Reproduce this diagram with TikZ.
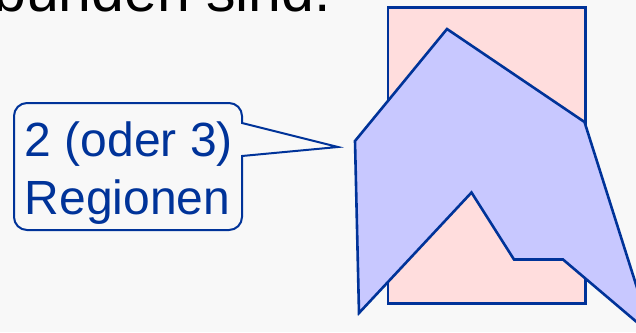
\documentclass[tikz,border=0pt]{standalone}
\usepackage{fontspec}
\setmainfont{Liberation Sans}
\definecolor{bg}{HTML}{F8F8F8}
\definecolor{dblue}{HTML}{003399}
\definecolor{pinkfill}{HTML}{FFDDDD}
\definecolor{violetfill}{HTML}{C8C8FF}
\tikzset{
  region/.style={draw=dblue, line width=2.6pt, line join=miter},
  calloutline/.style={draw=dblue, fill=bg, line width=2pt, line join=miter},
  lbltext/.style={text=dblue, inner sep=0pt, anchor=base west, font=\fontsize{48}{58}\selectfont},
}
\begin{document}
\begin{tikzpicture}[x=1pt,y=-1pt]
\clip (0,0) rectangle (636,332);
\useasboundingbox (0,0) rectangle (636,332);
\fill[bg] (0,0) rectangle (636,332);
% top text (cut off at the top edge, as in the reference)
\node[inner sep=0pt, anchor=base west, font=\fontsize{59}{70}\selectfont] (title) at (-7,11) {bunden sind.};
% rectangle
\draw[region, fill=pinkfill] (388,7.5) rectangle (585.5,303.5);
% polygon
\draw[region, fill=violetfill] (447,29) -- (584.5,122) -- (652,335) -- (563,259.5) -- (514,259.5) -- (471.5,192.5) -- (359,313) -- (355,141) -- cycle;
% callout
\coordinate (tip) at (338,147);
\draw[calloutline] (242,123) -- (tip) -- (242,156) [rounded corners=13pt] -- (242,230) -- (14,230) -- (14,103) -- (242,103) [sharp corners] -- (242,123) -- cycle;
\node[lbltext] (l1) at (24.5,156) {2 (oder 3)};
\node[lbltext] (l2) at (24.5,214) {Regionen};
\end{tikzpicture}
\end{document}
